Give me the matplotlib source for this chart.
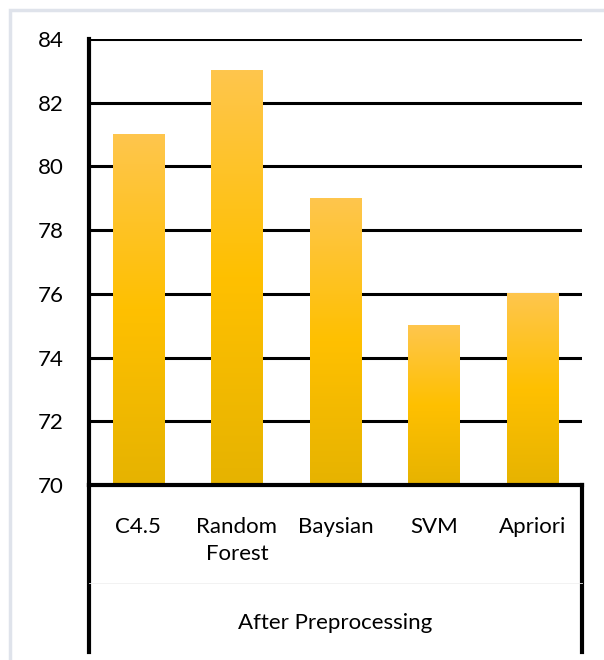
import matplotlib.pyplot as plt
import numpy as np
from matplotlib.colors import LinearSegmentedColormap
from matplotlib.lines import Line2D
from matplotlib.patches import Rectangle

categories = ['C4.5', 'Random\nForest', 'Baysian', 'SVM', 'Apriori']
values = [81, 83, 79, 75, 76]
yticks = [70, 72, 74, 76, 78, 80, 82, 84]
group_label = 'After Preprocessing'

plt.rcParams['font.family'] = ['Lato', 'DejaVu Sans']

W, H = 604, 660
fig = plt.figure(figsize=(W / 100, H / 100), dpi=100)

def fx(px):
    return px / W

def fy(py):
    return 1 - py / H

# light outer chart frame (only top and left edges show)
fig.patches.append(Rectangle((fx(10), -0.1), 1, fy(10) + 0.1, transform=fig.transFigure,
                             fill=False, edgecolor='#dfe3eb', linewidth=2.5))

left, right, top, bottom = 89, 582, 39, 485
ax = fig.add_axes([fx(left), fy(bottom), fx(right - left), fy(top) - fy(bottom)])

cmap = LinearSegmentedColormap.from_list('gold', ['#e6b300', '#ffc000', '#fec64d'])
grad = np.linspace(0, 1, 256).reshape(-1, 1)

x = np.arange(len(categories))
width = 0.52

for yv in yticks[1:]:
    ax.axhline(yv, color='black', linewidth=2.2, zorder=1)

for xi, v in zip(x, values):
    ax.imshow(grad, cmap=cmap, origin='lower', aspect='auto', zorder=2,
              extent=(xi - width / 2, xi + width / 2, 70, v), interpolation='bilinear')
ax.set_xlim(-0.5, len(categories) - 0.5)
ax.set_ylim(70, 84)

for s in ['top', 'right']:
    ax.spines[s].set_visible(False)
ax.spines['left'].set_linewidth(3)
ax.spines['bottom'].set_linewidth(3)
ax.spines['left'].set_zorder(3)
ax.spines['bottom'].set_zorder(3)

ax.set_yticks(yticks)
ax.set_yticklabels([str(t) for t in yticks], fontsize=16)
ax.tick_params(axis='y', length=0, pad=18)
ax.set_xticks(x)
ax.set_xticklabels(categories, fontsize=16, linespacing=1.45, va='top')
ax.tick_params(axis='x', length=0, pad=23)

# table-like category box below the axis
for px in (left, right):
    fig.add_artist(Line2D([fx(px), fx(px)], [fy(bottom), fy(652)], color='black',
                          linewidth=3, transform=fig.transFigure))
fig.add_artist(Line2D([fx(left), fx(right)], [fy(583), fy(583)], color='#f0f0f0',
                      linewidth=0.6, transform=fig.transFigure))
fig.text(fx((left + right) / 2), fy(623), group_label, fontsize=16,
         ha='center', va='center')

fig.savefig('out.png', dpi=100, facecolor='white')
